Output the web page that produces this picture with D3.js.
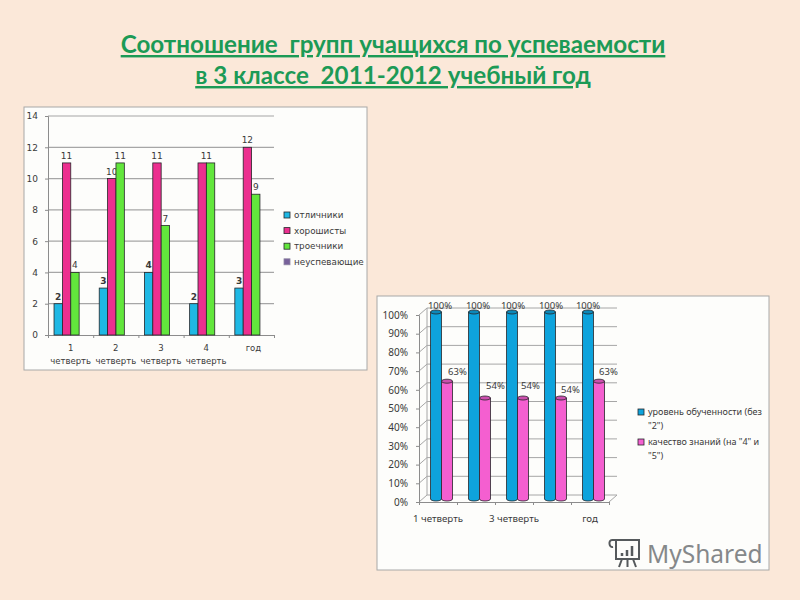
<!DOCTYPE html>
<html lang="ru">
<head>
<meta charset="utf-8">
<script src="https://cdn.jsdelivr.net/npm/d3@7"></script>
<style>
    html, body { margin: 0; padding: 0; background: #fbe8d9; }
    svg { display: block; }
    .panel_text { font-family: "DejaVu Sans", sans-serif; fill: #3a3a3a; }
    .axis text { font-family: "DejaVu Sans", sans-serif; fill: #3a3a3a; }
</style>
</head>
<body>
<svg id="svg_main" width="800" height="600"></svg>
<script>

// Data for the first chart (groups of pupils)
const group_categories = ["1 четверть", "2 четверть", "3 четверть", "4 четверть", "год"];
const group_series = ["отличники", "хорошисты", "троечники", "неуспевающие"];
const excellent_values = [2, 3, 4, 2, 3];
const good_values = [11, 10, 11, 11, 12];
const average_values = [4, 11, 7, 11, 9];
const failing_values = [];

// Data for the second chart (percentages)
const percent_categories = ["1 четверть", "2 четверть", "3 четверть", "4 четверть", "год"];
const percent_tick_labels = ["1 четверть", "", "3 четверть", "", "год"];
const level_values = [100, 100, 100, 100, 100];
const quality_values = [63, 54, 54, 54, 63];
const percent_legend = [
    ["уровень обученности (без", "\"2\")"],
    ["качество знаний (на \"4\" и", "\"5\")"]
];

const title_lines = ["Соотношение  групп учащихся по успеваемости", "в 3 классе  2011-2012 учебный год"];

// Colors
const my_background = "#fbe8d9",
    my_title_green = "#1c9a56",
    my_gridgray = "#a6a6a6",
    my_framegray = "#a8a8a8",
    my_barline = "#26262a";

const group_colors = ["#1fb8e4", "#ec2f8f", "#62e63c", "#77619a"];
const percent_colors = ["#0ea3dc", "#f45fd0"];

const svg = d3.select("#svg_main");


// Title
title_lines.forEach((line, i) => {
    svg.append("text")
        .attr("x", 393)
        .attr("y", 53 + i * 31)
        .attr("text-anchor", "middle")
        .attr("font-family", "Lato, sans-serif")
        .attr("font-weight", "bold")
        .attr("font-size", 24.2)
        .attr("fill", my_title_green)
        .attr("text-decoration", "underline")
        .style("text-decoration-skip-ink", "none")
        .style("white-space", "pre")
        .text(line);
});


// ---------- First chart ----------
const left = { x0: 24, y0: 107, x1: 367, y1: 370, plot_x0: 48, plot_x1: 274, plot_y0: 335, plot_y1: 116 };

svg.append("rect")
    .attr("x", left.x0).attr("y", left.y0)
    .attr("width", left.x1 - left.x0).attr("height", left.y1 - left.y0)
    .attr("fill", "#fdfdfb").attr("stroke", my_framegray);

const x_group_band = d3.scaleBand()
    .domain(group_categories)
    .range([left.plot_x0, left.plot_x1]);

// Bars sit left of the band centre in the original, hence the align
const x_group_slot = d3.scaleBand()
    .domain(d3.range(3))
    .range([0, x_group_band.bandwidth()])
    .paddingOuter(1.2)
    .paddingInner(0)
    .align(0.3);

const x_group_ticks = d3.scaleLinear()
    .domain([0, group_categories.length])
    .range([left.plot_x0, left.plot_x1]);

const y_group = d3.scaleLinear()
    .domain([0, 14])
    .range([left.plot_y0, left.plot_y1]);

// Gridlines
svg.append("g").selectAll("line")
    .data(d3.range(2, 15, 2))
    .enter().append("line")
    .attr("x1", left.plot_x0).attr("x2", left.plot_x1)
    .attr("y1", d => y_group(d)).attr("y2", d => y_group(d))
    .attr("stroke", my_gridgray).attr("stroke-width", 1.2);

// Axes
const y_axis_group = svg.append("g")
    .attr("class", "axis")
    .attr("transform", `translate(${left.plot_x0},0)`)
    .call(d3.axisLeft(y_group).tickValues(d3.range(0, 15, 2)).tickSize(3).tickPadding(7));
y_axis_group.selectAll("text").attr("font-size", 9);

svg.append("g")
    .attr("class", "axis")
    .attr("transform", `translate(0,${left.plot_y0})`)
    .call(d3.axisBottom(x_group_ticks).tickValues(d3.range(6)).tickFormat("").tickSize(3));

svg.selectAll(".axis path, .axis line").attr("stroke", "#8c8c8c");

// Category labels, broken in two lines like the original
group_categories.forEach(cat => {
    const parts = cat.split(" ");
    const cx = x_group_band(cat) + x_group_band.bandwidth() / 2;
    if (parts.length === 2) {
        svg.append("text").attr("class", "panel_text")
            .attr("x", cx).attr("y", 351).attr("text-anchor", "middle").attr("font-size", 8.5)
            .text(parts[0]);
        svg.append("text").attr("class", "panel_text")
            .attr("x", cx).attr("y", 364).attr("text-anchor", "middle").attr("font-size", 8.5)
            .text(parts[1]);
    } else {
        svg.append("text").attr("class", "panel_text")
            .attr("x", cx + 2).attr("y", 351).attr("text-anchor", "middle").attr("font-size", 8.5)
            .text(cat);
    }
});

// Value labels go under the bars: the "10" is partly hidden by the green bar.
// In the 4th quarter pink and green both are 11 and the picture shows one "11"
// between the two bars, so the pink label is skipped and the green one moved.
const shared_label_index = 3;

[excellent_values, good_values, average_values].forEach((values, s) => {
    const label_df = values
        .map((v, i) => ({ v: v, i: i }))
        .filter(d => !(s === 1 && d.i === shared_label_index));

    svg.append("g").selectAll("text")
        .data(label_df)
        .enter().append("text")
        .attr("class", "panel_text")
        .attr("x", function(d) {
            const cx = x_group_band(group_categories[d.i]) + x_group_slot(s) + x_group_slot.bandwidth() / 2;
            if (s === 2 && d.i === shared_label_index) return cx - x_group_slot.bandwidth() / 2;
            return cx;
        })
        .attr("y", d => y_group(d.v) - 4)
        .attr("text-anchor", "middle")
        .attr("font-size", 9)
        .attr("font-weight", s === 0 ? "bold" : "normal")
        .text(d => d.v);
});

// Bars
[excellent_values, good_values, average_values, failing_values].forEach((values, s) => {
    svg.append("g").selectAll("rect")
        .data(values)
        .enter().append("rect")
        .attr("x", (d, i) => x_group_band(group_categories[i]) + x_group_slot(s))
        .attr("y", d => y_group(d))
        .attr("width", x_group_slot.bandwidth())
        .attr("height", d => y_group(0) - y_group(d))
        .attr("fill", group_colors[s])
        .attr("stroke", my_barline)
        .attr("stroke-width", 0.8);
});

// Legend
group_series.forEach((name, i) => {
    const ly = 215 + i * 15.6;
    svg.append("rect")
        .attr("x", 284).attr("y", ly - 3).attr("width", 6).attr("height", 6)
        .attr("fill", group_colors[i]).attr("stroke", i === 3 ? "#8f86a3" : my_barline).attr("stroke-width", 0.8);
    svg.append("text").attr("class", "panel_text")
        .attr("x", 294).attr("y", ly + 3).attr("font-size", 8.8)
        .text(name);
});


// ---------- Second chart ----------
const right = { x0: 377, y0: 296, x1: 769, y1: 570, plot_x0: 419, plot_x1: 609, plot_y0: 502, plot_y1: 315, depth_x: 8, depth_y: 7 };

svg.append("rect")
    .attr("x", right.x0).attr("y", right.y0)
    .attr("width", right.x1 - right.x0).attr("height", right.y1 - right.y0)
    .attr("fill", "#fdfdfb").attr("stroke", my_framegray);

const x_percent_band = d3.scaleBand()
    .domain(percent_categories)
    .range([right.plot_x0, right.plot_x1]);

const x_percent_ticks = d3.scaleLinear()
    .domain([0, percent_categories.length])
    .range([right.plot_x0, right.plot_x1]);

const y_percent = d3.scaleLinear()
    .domain([0, 100])
    .range([right.plot_y0, right.plot_y1]);

const percent_ticks = d3.range(0, 101, 10);

// Back wall gridlines and the slanted lines down to the axis
svg.append("g").selectAll("line")
    .data(percent_ticks)
    .enter().append("line")
    .attr("x1", right.plot_x0 + right.depth_x).attr("x2", right.plot_x1 + right.depth_x)
    .attr("y1", d => y_percent(d) - right.depth_y).attr("y2", d => y_percent(d) - right.depth_y)
    .attr("stroke", my_gridgray);

svg.append("g").selectAll("line")
    .data(percent_ticks)
    .enter().append("line")
    .attr("x1", right.plot_x0).attr("x2", right.plot_x0 + right.depth_x)
    .attr("y1", d => y_percent(d)).attr("y2", d => y_percent(d) - right.depth_y)
    .attr("stroke", my_gridgray);

svg.append("line")
    .attr("x1", right.plot_x0 + right.depth_x).attr("x2", right.plot_x0 + right.depth_x)
    .attr("y1", y_percent(0) - right.depth_y).attr("y2", y_percent(100) - right.depth_y)
    .attr("stroke", my_gridgray);

svg.append("line")
    .attr("x1", right.plot_x1).attr("x2", right.plot_x1 + right.depth_x)
    .attr("y1", y_percent(0)).attr("y2", y_percent(0) - right.depth_y)
    .attr("stroke", my_gridgray);

// Axes
const percent_axis_left = svg.append("g")
    .attr("class", "axis")
    .attr("transform", `translate(${right.plot_x0},0)`)
    .call(d3.axisLeft(y_percent).tickValues(percent_ticks).tickFormat(d => d + "%").tickSize(3).tickPadding(8));
percent_axis_left.selectAll("text").style("font-family", "Noto Sans, sans-serif").attr("font-size", 10);

svg.append("g")
    .attr("class", "axis")
    .attr("transform", `translate(0,${right.plot_y0})`)
    .call(d3.axisBottom(x_percent_ticks).tickValues(d3.range(6)).tickFormat("").tickSize(3));

svg.selectAll(".axis path, .axis line").attr("stroke", "#8c8c8c");

percent_tick_labels.forEach((label, i) => {
    svg.append("text")
        .attr("class", "panel_text")
        .attr("x", x_percent_ticks(i) + x_percent_band.bandwidth() / 2)
        .attr("y", 522)
        .attr("text-anchor", "middle")
        .style("font-family", "Noto Sans, sans-serif")
        .attr("font-size", 9.7)
        .text(label);
});

// Cylinders
const cyl_w = 11, cyl_ry = 2, floor_dx = 3.5, floor_dy = 3;

function draw_cylinders(values, s) {
    const g = svg.append("g");
    const cx = (d, i) => x_percent_band(percent_categories[i]) + x_percent_band.bandwidth() / 2 + floor_dx + (s - 0.5) * cyl_w;

    g.selectAll("path")
        .data(values)
        .enter().append("path")
        .attr("d", function(d, i) {
            const c = cx(d, i), top = y_percent(d) - floor_dy, bottom = y_percent(0) - floor_dy;
            return `M ${c - cyl_w / 2},${top} L ${c - cyl_w / 2},${bottom} A ${cyl_w / 2},${cyl_ry} 0 0 0 ${c + cyl_w / 2},${bottom} L ${c + cyl_w / 2},${top} Z`;
        })
        .attr("fill", percent_colors[s])
        .attr("stroke", my_barline)
        .attr("stroke-width", 0.8);

    g.selectAll("ellipse")
        .data(values)
        .enter().append("ellipse")
        .attr("cx", cx)
        .attr("cy", d => y_percent(d) - floor_dy)
        .attr("rx", cyl_w / 2)
        .attr("ry", cyl_ry)
        .attr("fill", d3.color(percent_colors[s]).darker(0.5))
        .attr("stroke", my_barline)
        .attr("stroke-width", 0.8);
}

draw_cylinders(level_values, 0);
draw_cylinders(quality_values, 1);

// Value labels were moved by hand in the original, so they need small shifts
const level_label_dx = [4, 4, 1, 1, 0];
const quality_label_dx = [9, 9, 6, 8, 8];
const quality_label_dy = [3, 0, 0, 4, 3];

svg.append("g").selectAll("text")
    .data(level_values)
    .enter().append("text")
    .attr("class", "panel_text")
    .style("font-family", "Noto Sans, sans-serif")
    .attr("x", (d, i) => x_percent_band(percent_categories[i]) + x_percent_band.bandwidth() / 2 - 2 + level_label_dx[i])
    .attr("y", d => y_percent(d) - 6)
    .attr("text-anchor", "middle")
    .attr("font-size", 9.5)
    .text(d => d + "%");

svg.append("g").selectAll("text")
    .data(quality_values)
    .enter().append("text")
    .attr("class", "panel_text")
    .style("font-family", "Noto Sans, sans-serif")
    .attr("x", (d, i) => x_percent_band(percent_categories[i]) + x_percent_band.bandwidth() / 2 + 10.5 + quality_label_dx[i])
    .attr("y", (d, i) => y_percent(d) - 12 + quality_label_dy[i])
    .attr("text-anchor", "middle")
    .attr("font-size", 9.5)
    .text(d => d + "%");

// Legend
percent_legend.forEach((lines, i) => {
    const ly = 412 + i * 30;
    svg.append("rect")
        .attr("x", 638).attr("y", ly - 3).attr("width", 6).attr("height", 6)
        .attr("fill", percent_colors[i]).attr("stroke", my_barline).attr("stroke-width", 0.8);
    lines.forEach((line, j) => {
        svg.append("text").attr("class", "panel_text")
            .style("font-family", "Noto Sans, sans-serif")
            .attr("x", 648).attr("y", ly + 3 + j * 13.5).attr("font-size", 9)
            .text(line);
    });
});


// Watermark, icon plus text
const mark = svg.append("g")
    .attr("transform", "translate(608,538)")
    .attr("fill", "none")
    .attr("stroke", "#55595c")
    .attr("stroke-width", 2);

mark.append("path").attr("d", "M 4,2 L 32,2 M 8,2 L 8,21 L 31,21 L 31,2 M 4,2 C 0,2 1,10 5,9");
mark.append("path").attr("d", "M 14,18 L 14,15 M 19,18 L 19,12 M 24,18 L 24,8").attr("stroke-width", 2.5);
mark.append("path").attr("d", "M 14,21 L 11,29 M 25,21 L 28,29 M 19.5,21 L 19.5,29");

svg.append("text")
    .attr("x", 647)
    .attr("y", 563)
    .attr("font-family", "Noto Sans, sans-serif")
    .attr("font-size", 24.5)
    .attr("fill", "#85888a")
    .text("MyShared");

</script>
</body>
</html>
